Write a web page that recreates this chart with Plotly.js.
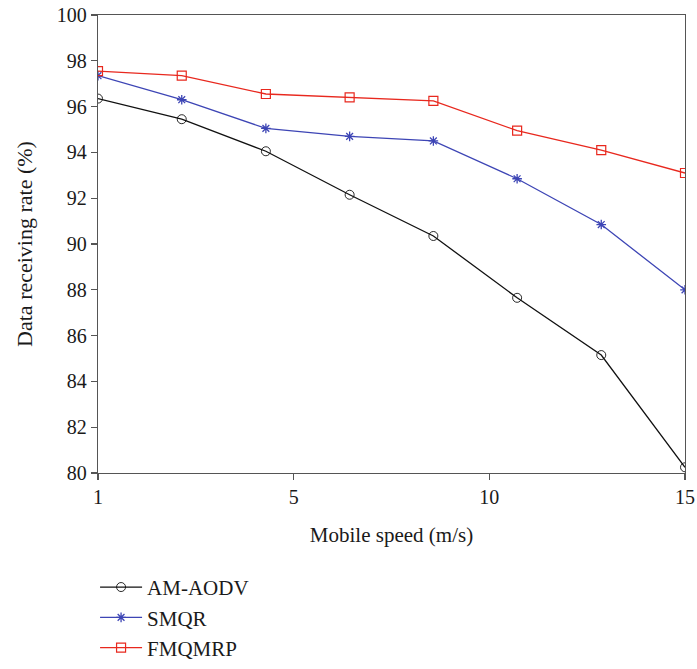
<!DOCTYPE html>
<html>
<head>
<meta charset="utf-8">
<script src="https://cdn.plot.ly/plotly-3.0.1.min.js"></script>
<style>html,body{margin:0;padding:0;background:#fff;}#chart{width:697px;height:669px;}</style>
</head>
<body>
<div id="chart"></div>
<script>
// Mobile speed positions, and tick labels
const speed = [0, 2.14, 4.29, 6.43, 8.57, 10.71, 12.86, 15];
const xTickVals = [0, 5, 10, 15];
const xTickText = ["1", "5", "10", "15"];

const amAodv = [96.35, 95.45, 94.05, 92.15, 90.35, 87.65, 85.15, 80.25];
const smqr   = [97.35, 96.3, 95.05, 94.7, 94.5, 92.85, 90.85, 88.0];
const fmqmrp = [97.55, 97.35, 96.55, 96.4, 96.25, 94.95, 94.1, 93.1];

const font = 'Liberation Serif, Times New Roman, serif';

const traces = [
  {x: speed, y: amAodv, name: 'AM-AODV', mode: 'lines+markers', legendgroup: 'a',
   line: {color: '#111111', width: 1.3},
   marker: {symbol: 'circle-open', size: 9, color: '#111111', line: {width: 0.9}}},
  {x: speed, y: smqr, name: 'SMQR', mode: 'lines+markers', legendgroup: 'b',
   line: {color: '#3d45b5', width: 1.3},
   marker: {symbol: 'asterisk-open', size: 8, color: '#3d45b5', line: {width: 1.3, color: '#3d45b5'}}},
  {x: speed, y: fmqmrp, name: 'FMQMRP', mode: 'lines+markers', legendgroup: 'c',
   line: {color: '#e8281e', width: 1.3},
   marker: {symbol: 'square-open', size: 9, color: '#e8281e', line: {width: 1.2}}}
];

const layout = {
  width: 697, height: 669,
  margin: {l: 98, r: 12, t: 15, b: 196, autoexpand: false},
  paper_bgcolor: '#fff', plot_bgcolor: '#fff',
  font: {family: font, size: 20, color: '#1a1a1a'},
  showlegend: true,
  legend: {x: -0.005, y: -0.205, xanchor: 'left', yanchor: 'top',
           font: {family: font, size: 21, color: '#1a1a1a'},
           traceorder: 'grouped', tracegroupgap: 0, itemwidth: 42,
           bgcolor: 'rgba(0,0,0,0)'},
  xaxis: {
    range: [0, 15], tickvals: xTickVals, ticktext: xTickText,
    ticks: 'outside', ticklen: 6, tickcolor: '#555', tickwidth: 1.2,
    showline: true, linecolor: '#555', linewidth: 1.3, mirror: true,
    showgrid: false, zeroline: false,
    tickfont: {family: font, size: 20},
    title: {text: 'Mobile speed (m/s)', font: {family: font, size: 21}, standoff: 20}
  },
  yaxis: {
    range: [80, 100], dtick: 2, tick0: 80,
    ticks: 'outside', ticklen: 6, tickcolor: '#555', tickwidth: 1.2,
    showline: true, linecolor: '#555', linewidth: 1.3, mirror: true,
    showgrid: false, zeroline: false,
    tickfont: {family: font, size: 20},
    title: {text: 'Data receiving rate (%)', font: {family: font, size: 22}, standoff: 18}
  }
};

Plotly.newPlot('chart', traces, layout, {displayModeBar: false, staticPlot: true});
</script>
</body>
</html>
